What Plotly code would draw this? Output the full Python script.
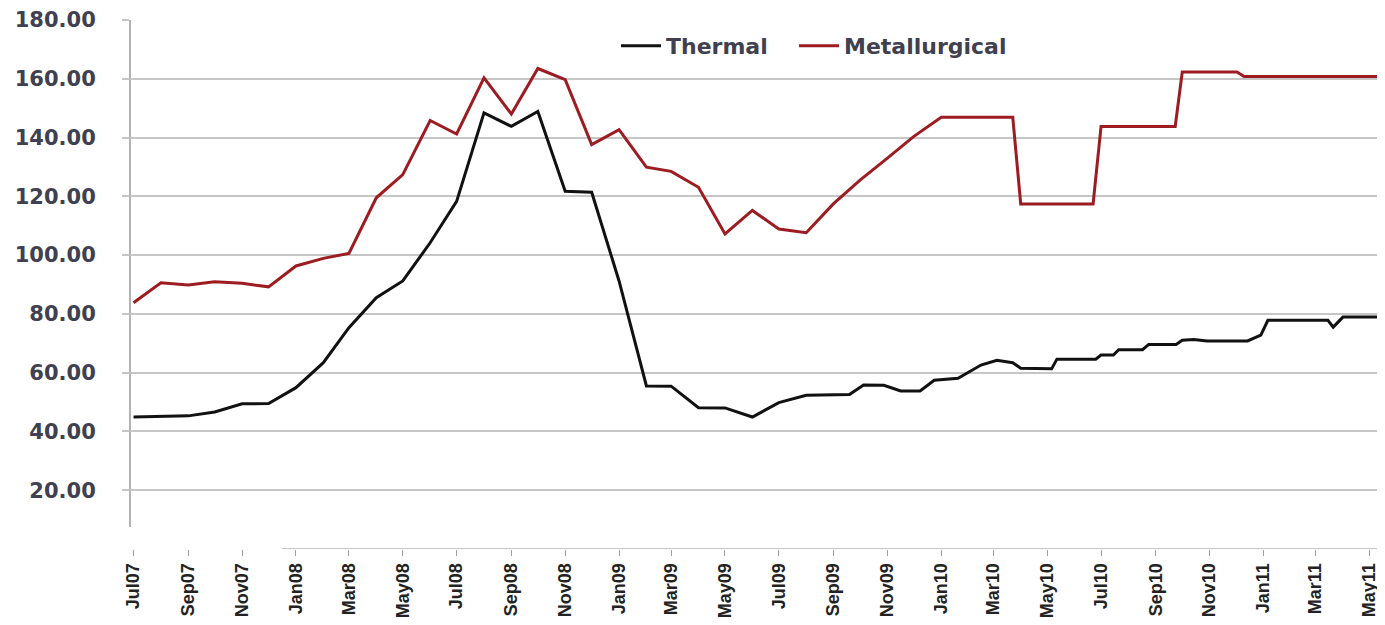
import plotly.graph_objects as go

# ---- Data ----
thermal_dates = [
    "2007-07-01", "2007-08-01", "2007-09-01", "2007-10-01", "2007-11-01", "2007-12-01",
    "2008-01-01", "2008-02-01", "2008-03-01", "2008-04-01", "2008-05-01", "2008-06-01",
    "2008-07-01", "2008-08-01", "2008-09-01", "2008-10-01", "2008-11-01", "2008-12-01",
    "2009-01-01", "2009-02-01", "2009-03-01", "2009-04-01", "2009-05-01", "2009-06-01",
    "2009-07-01", "2009-08-01", "2009-09-19", "2009-10-05", "2009-10-28", "2009-11-16",
    "2009-12-08", "2009-12-24", "2010-01-20", "2010-02-15", "2010-03-05", "2010-03-23",
    "2010-04-01", "2010-05-06", "2010-05-12", "2010-06-25", "2010-07-01", "2010-07-15",
    "2010-07-21", "2010-08-17", "2010-08-24", "2010-09-24", "2010-10-01", "2010-10-14",
    "2010-10-29", "2010-12-14", "2010-12-29", "2011-01-06", "2011-03-15", "2011-03-21",
    "2011-04-01", "2011-05-12",
]
thermal_values = [
    44.9, 45.2, 45.3, 46.6, 49.4, 49.5,
    54.9, 63.4, 75.3, 85.5, 91.2, 104.2,
    118.3, 148.4, 143.8, 148.9, 121.7, 121.4,
    91.2, 55.5, 55.4, 48.1, 48.0, 44.9,
    49.8, 52.3, 52.6, 55.8, 55.7, 53.8,
    53.8, 57.4, 58.1, 62.6, 64.2, 63.4,
    61.5, 61.3, 64.6, 64.6, 66.0, 66.0,
    67.8, 67.8, 69.6, 69.6, 71.0, 71.3,
    70.8, 70.8, 72.8, 77.8, 77.8, 75.5,
    78.9, 78.9,
]

met_dates = [
    "2007-07-01", "2007-08-01", "2007-09-01", "2007-10-01", "2007-11-01", "2007-12-01",
    "2008-01-01", "2008-02-01", "2008-03-01", "2008-04-01", "2008-05-01", "2008-06-01",
    "2008-07-01", "2008-08-01", "2008-09-01", "2008-10-01", "2008-11-01", "2008-12-01",
    "2009-01-01", "2009-02-01", "2009-03-01", "2009-04-01", "2009-05-01", "2009-06-01",
    "2009-07-01", "2009-08-01", "2009-09-01", "2009-10-01", "2009-11-01", "2009-12-01",
    "2010-01-01", "2010-03-23", "2010-04-01", "2010-06-22", "2010-07-01", "2010-09-23",
    "2010-10-01", "2010-12-02", "2010-12-10", "2011-05-12",
]
met_values = [
    83.8, 90.6, 89.8, 90.9, 90.4, 89.2,
    96.3, 98.9, 100.6, 119.5, 127.4, 145.8,
    141.2, 160.3, 148.0, 163.5, 159.7, 137.6,
    142.7, 129.9, 128.5, 123.1, 107.2, 115.2,
    108.9, 107.6, 117.5, 125.5, 133.0, 140.4,
    146.9, 146.9, 117.4, 117.4, 143.8, 143.8,
    162.3, 162.3, 160.8, 160.8,
]

y_ticks = [20, 40, 60, 80, 100, 120, 140, 160, 180]
y_tick_labels = ["%.2f" % v for v in y_ticks]

x_range = ["2007-06-27", "2011-05-13"]

legend_font = dict(family="DejaVu Sans", size=22, color="#404050", weight="bold")

fig = go.Figure()
fig.add_trace(go.Scatter(
    x=thermal_dates, y=thermal_values, mode="lines", name="Thermal",
    line=dict(color="#111111", width=3), legend="legend",
))
fig.add_trace(go.Scatter(
    x=met_dates, y=met_values, mode="lines", name="Metallurgical",
    line=dict(color="#9c1c22", width=3), legend="legend2",
))

grid_col = "#c6c6c6"
axis_col = "#b3b3b3"

# axis lines as in the reference (partial lines)
fig.add_shape(type="line", xref="paper", yref="y", x0=0, x1=0, y0=7.5, y1=180,
              line=dict(color=axis_col, width=2), layer="below")
fig.add_shape(type="line", xref="x", yref="y", x0="2007-12-16", x1=x_range[1], y0=0, y1=0,
              line=dict(color=axis_col, width=1.5), layer="below")

# page body has an 8px margin: figure is sized/offset to compensate
fig.update_layout(
    width=1377, height=617,
    margin=dict(l=122, r=5, t=12, b=76),
    paper_bgcolor="white", plot_bgcolor="white",
    showlegend=True,
    legend=dict(
        orientation="h", x=0.3888, y=0.951, xanchor="left", yanchor="middle",
        font=legend_font, bgcolor="rgba(0,0,0,0)", itemwidth=40,
    ),
    legend2=dict(
        orientation="h", x=0.5312, y=0.951, xanchor="left", yanchor="middle",
        font=legend_font, bgcolor="rgba(0,0,0,0)", itemwidth=40,
    ),
    xaxis=dict(
        type="date", range=x_range, automargin=False,
        tick0="2007-07-01", dtick="M2", tickformat="%b%y",
        tickangle=-90, showgrid=False, zeroline=False, showline=False,
        ticks="outside", ticklen=6, tickcolor="#a0a0a0", tickwidth=1,
        tickfont=dict(family="Liberation Sans", size=18, color="#222222", weight="bold"),
    ),
    yaxis=dict(
        range=[0, 180], tickvals=y_ticks, ticktext=y_tick_labels, automargin=False,
        showgrid=True, gridcolor=grid_col, gridwidth=1.6,
        zeroline=False, showline=False,
        ticks="outside", ticklen=7, tickcolor=grid_col, tickwidth=1.6,
        ticklabelstandoff=22,
        tickfont=dict(family="DejaVu Sans", size=21, color="#404050", weight="bold"),
    ),
)

fig.write_html("out.html")
